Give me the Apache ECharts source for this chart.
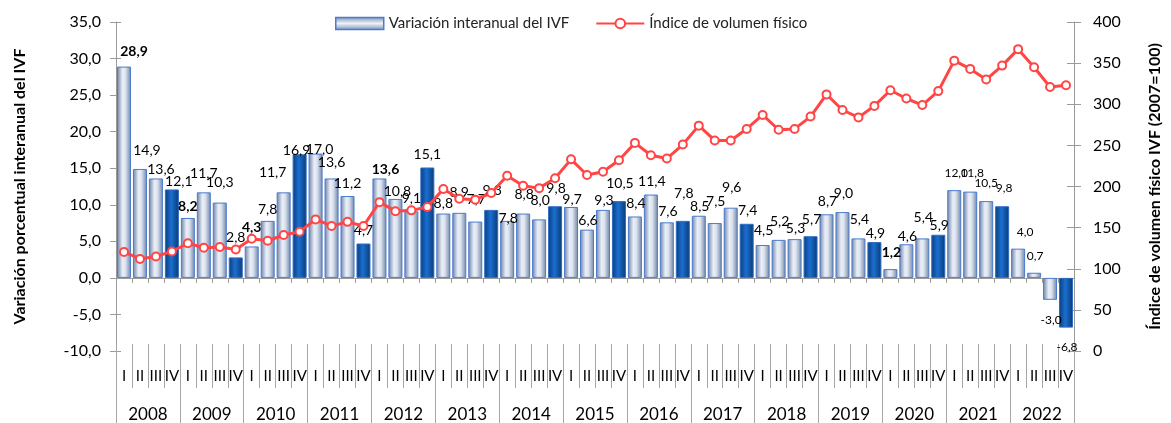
<!DOCTYPE html>
<html>
<head>
<meta charset="utf-8">
<script src="https://cdn.jsdelivr.net/npm/echarts@6/dist/echarts.min.js"></script>
<style>
  html, body { margin: 0; padding: 0; background: #fff; }
  #chart { width: 1171px; height: 423px; }
</style>
</head>
<body>
<div id="chart"></div>
<script>
// data
var years = ['2008', '2009', '2010', '2011', '2012', '2013', '2014', '2015',
             '2016', '2017', '2018', '2019', '2020', '2021', '2022'];
var quarters = ['I', 'II', 'III', 'IV'];

// variación interanual del IVF (%)
var variacion = [
  28.9, 14.9, 13.6, 12.1,
  8.2, 11.7, 10.3, 2.8,
  4.3, 7.8, 11.7, 16.9,
  17.0, 13.6, 11.2, 4.7,
  13.6, 10.8, 9.1, 15.1,
  8.8, 8.9, 7.7, 9.3,
  7.8, 8.8, 8.0, 9.8,
  9.7, 6.6, 9.3, 10.5,
  8.4, 11.4, 7.6, 7.8,
  8.5, 7.5, 9.6, 7.4,
  4.5, 5.2, 5.3, 5.7,
  8.7, 9.0, 5.4, 4.9,
  1.2, 4.6, 5.4, 5.9,
  12.0, 11.8, 10.5, 9.8,
  4.0, 0.7, -3.0, -6.8
];

// índice de volumen físico (2007=100)
var indice = [
  120.5, 112, 115, 121,
  131, 125.5, 126.5, 123.5,
  136.5, 134, 141, 145,
  160, 152, 157, 152,
  181, 170, 171, 175,
  197, 185, 184, 192,
  213, 201, 198, 210,
  233, 214, 218, 232,
  253, 238, 234, 251,
  274, 256, 256, 270,
  287, 269, 270, 285,
  312, 293, 284, 298,
  317, 307, 299, 316,
  353, 343, 330, 347,
  367, 345, 321, 323
];

// labels shown in bold in the original
var boldIdx = [0, 4, 8, 16, 48];

// small nudges so labels sit roughly where Excel put them
var labelNudge = [
  [10, -2], [7, -5], [5, 4], [7, 5],
  [0, 2], [0, -6], [0, -7], [0, -7],
  [0, -6], [0, 2], [-11, -7], [-3, 9],
  [4, 9], [0, -3], [0, 0], [0, 0],
  [6, 4], [2, 6], [0, 0], [0, 0],
  [0, 3], [0, -7], [1, -9], [1, -6],
  [1, 11], [1, -6], [1, -6], [1, -5],
  [1, 6], [1, 4], [1, 4], [1, -5],
  [1, 0], [1, 0], [1, 2], [1, -14],
  [1, 4], [1, -9], [1, -7], [1, 0],
  [1, -2], [1, -5], [1, 2], [1, -4],
  [1, 0], [1, -6], [1, -6], [1, 4],
  [1, -4], [1, 5], [1, -8], [1, 4],
  [2, -5], [2, -6], [0, -6], [2, -6],
  [7, -5], [1, -5], [1, 8], [1, 8]
];

var FONT = 'Lato, Carlito, Calibri, sans-serif';

var catKeys = [];
var quarterLabels = [];
years.forEach(function (y) {
  quarters.forEach(function (q) {
    catKeys.push(y + '-' + q);
    quarterLabels.push(q);
  });
});

function fmt(v) {
  return v.toFixed(1).replace('.', ',');
}

var lightBar = {
  color: new echarts.graphic.LinearGradient(0, 0, 1, 0, [
    { offset: 0, color: '#6a7fa4' },
    { offset: 0.4, color: '#eaeff8' },
    { offset: 0.6, color: '#dce4f1' },
    { offset: 1, color: '#70849f' }
  ]),
  borderColor: '#4a7bd0',
  borderWidth: 1
};
var darkBar = {
  color: new echarts.graphic.LinearGradient(0, 0, 1, 0, [
    { offset: 0, color: '#0b3c7a' },
    { offset: 0.45, color: '#1a6fd2' },
    { offset: 1, color: '#0a3a72' }
  ]),
  borderColor: '#2f6cc0',
  borderWidth: 1
};

var barData = variacion.map(function (v, i) {
  var small = i >= 52;
  return {
    value: v,
    itemStyle: i % 4 === 3 ? darkBar : lightBar,
    label: {
      position: v < 0 ? 'bottom' : 'top',
      offset: labelNudge[i],
      fontWeight: boldIdx.indexOf(i) >= 0 ? 'bold' : 'normal',
      fontSize: small ? 12 : 14
    }
  };
});

var chart = echarts.init(document.getElementById('chart'));

var option = {
  animation: false,
  textStyle: { fontFamily: FONT },
  grid: { left: 116, right: 95, top: 22, bottom: 72 },
  legend: {
    left: 330,
    top: 11,
    itemWidth: 48,
    itemHeight: 12,
    itemGap: 26,
    textStyle: { fontFamily: FONT, fontSize: 15, color: '#222' },
    data: [
      {
        name: 'Variación interanual del IVF',
        icon: 'rect',
        itemStyle: {
          color: new echarts.graphic.LinearGradient(0, 0, 0, 1, [
            { offset: 0, color: '#7a8fb2' },
            { offset: 0.5, color: '#eef2f9' },
            { offset: 1, color: '#7a8fb2' }
          ]),
          borderColor: '#4a7bd0',
          borderWidth: 1.5
        }
      },
      { name: 'Índice de volumen físico' }
    ]
  },
  xAxis: [
    {
      // zero line with small ticks
      type: 'category',
      data: catKeys,
      axisLine: { onZero: true, lineStyle: { color: '#9a9a9a', width: 1 } },
      axisTick: { show: true, interval: 0, length: 5, lineStyle: { color: '#9a9a9a' } },
      axisLabel: { show: false }
    },
    {
      // quarter labels
      type: 'category',
      position: 'bottom',
      offset: -7,
      data: quarterLabels,
      axisLine: { show: false, onZero: false },
      axisTick: { show: true, interval: 0, length: 44, lineStyle: { color: '#a6a6a6' } },
      axisLabel: { interval: 0, margin: 25, fontSize: 15, color: '#000', fontFamily: FONT }
    },
    {
      // year labels
      type: 'category',
      position: 'bottom',
      offset: -7,
      data: years,
      axisLine: { show: false, onZero: false },
      axisTick: { show: true, interval: 0, length: 79, lineStyle: { color: '#a6a6a6' } },
      axisLabel: { interval: 0, margin: 62, fontSize: 17, color: '#000', fontFamily: FONT }
    }
  ],
  yAxis: [
    {
      type: 'value',
      position: 'left',
      min: -10,
      max: 35,
      interval: 5,
      name: 'Variación porcentual interanual del IVF',
      nameLocation: 'middle',
      nameGap: 88,
      nameTextStyle: { fontFamily: FONT, fontSize: 16, fontWeight: 'bold', color: '#000' },
      axisLine: { show: true, lineStyle: { color: '#9a9a9a' } },
      axisTick: { show: true, length: 6, lineStyle: { color: '#9a9a9a' } },
      axisLabel: { formatter: fmt, fontSize: 16, color: '#000', margin: 15, fontFamily: FONT },
      splitLine: { show: false }
    },
    {
      type: 'value',
      position: 'right',
      min: 0,
      max: 400,
      interval: 50,
      name: 'Índice de volumen físico IVF (2007=100)',
      nameLocation: 'middle',
      nameGap: 73,
      nameTextStyle: { fontFamily: FONT, fontSize: 16, fontWeight: 'bold', color: '#000' },
      axisLine: { show: true, lineStyle: { color: '#9a9a9a' } },
      axisTick: { show: true, length: 7, lineStyle: { color: '#9a9a9a' } },
      axisLabel: { fontSize: 16, color: '#000', margin: 19, fontFamily: FONT },
      splitLine: { show: false }
    },
    {
      // inner half of the crossing ticks, left
      type: 'value',
      position: 'left',
      min: -10,
      max: 35,
      interval: 5,
      axisLine: { show: false },
      axisTick: { show: true, inside: true, length: 5, lineStyle: { color: '#9a9a9a' } },
      axisLabel: { show: false },
      splitLine: { show: false }
    },
    {
      // inner half of the crossing ticks, right
      type: 'value',
      position: 'right',
      min: 0,
      max: 400,
      interval: 50,
      axisLine: { show: false },
      axisTick: { show: true, inside: true, length: 7, lineStyle: { color: '#9a9a9a' } },
      axisLabel: { show: false },
      splitLine: { show: false }
    }
  ],
  series: [
    {
      name: 'Variación interanual del IVF',
      type: 'bar',
      xAxisIndex: 0,
      yAxisIndex: 0,
      barWidth: 14,
      itemStyle: lightBar,
      label: {
        show: true,
        distance: 6,
        color: '#000',
        fontFamily: FONT,
        formatter: function (p) { return fmt(p.value); }
      },
      data: barData,
      z: 2
    },
    {
      name: 'Índice de volumen físico',
      type: 'line',
      xAxisIndex: 0,
      yAxisIndex: 1,
      symbol: 'circle',
      symbolSize: 8,
      lineStyle: { color: '#ff4545', width: 3 },
      itemStyle: { color: '#fff', borderColor: '#ff4545', borderWidth: 2 },
      data: indice,
      z: 3
    }
  ]
};

chart.setOption(option);
</script>
</body>
</html>
